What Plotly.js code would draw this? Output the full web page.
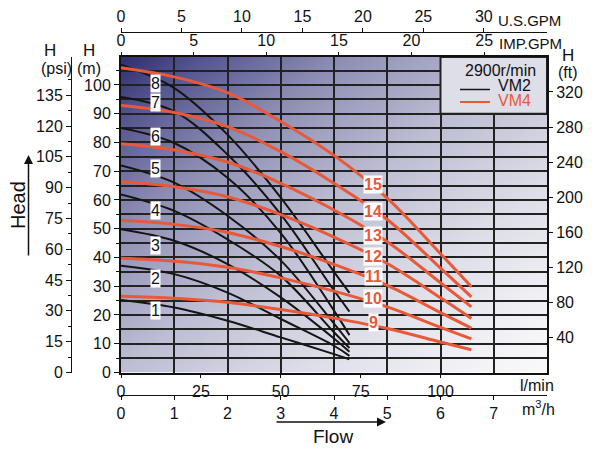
<!DOCTYPE html>
<html><head><meta charset="utf-8">
<script src="https://cdn.plot.ly/plotly-3.0.1.min.js"></script>
<style>body{margin:0;background:#fff}#chart{width:600px;height:451px}</style>
</head><body><div id="chart"></div>
<script>
// ---------- DATA (flow in m3/h, head in m) ----------
const vm2Flow = [0, 1, 2, 3, 4, 4.29];
const vm2_1 = [25.2, 22.6, 18.0, 12.2, 6.4, 4.6];
const vm2_2 = [37.1, 34.2, 27.8, 18.6, 9.3, 5.8];
const vm2_3 = [49.8, 45.8, 37.7, 26.1, 11.8, 7.2];
const vm2_4 = [61.9, 56.2, 46.3, 33.6, 14.0, 8.5];
const vm2_5 = [72.0, 66.0, 54.5, 39.0, 17.0, 10.3];
const vm2_6 = [85.0, 79.8, 67.7, 48.5, 21.5, 13.0];
const vm2_7 = [95.8, 90.8, 75.8, 55.0, 28.5, 21.2];
const vm2_8 = [107.0, 98.9, 82.7, 60.8, 35.0, 27.7];
const vm2Names = ['1','2','3','4','5','6','7','8'];
const vm2LabelFlow = 0.64;
const vm2LabelHead = [21.4, 32.7, 44.3, 56.5, 71.0, 82.2, 94.0, 100.6];

const vm4Flow = [0, 1, 2, 3, 4, 5, 6, 6.58];
const vm4_9  = [26.5, 25.8, 24.4, 21.9, 18.9, 15.3, 10.6, 7.9];
const vm4_10 = [39.7, 38.7, 36.6, 32.9, 28.3, 22.8, 15.7, 11.7];
const vm4_11 = [52.9, 51.5, 48.7, 43.8, 37.6, 30.3, 20.8, 15.4];
const vm4_12 = [66.3, 64.6, 61.1, 54.9, 47.1, 37.9, 26.0, 18.8];
const vm4_13 = [79.5, 77.4, 73.2, 65.8, 56.5, 45.5, 31.2, 22.8];
const vm4_14 = [92.8, 90.4, 85.5, 76.8, 65.8, 53.2, 36.3, 26.3];
const vm4_15 = [106.0, 102.8, 97.3, 87.3, 75.5, 60.6, 41.3, 29.8];
const vm4Names = ['9','10','11','12','13','14','15'];
const vm4LabelFlow = 4.74;
const vm4LabelHead = [17.5, 25.6, 33.3, 40.3, 47.8, 55.9, 65.4];

const lminTicks = [0, 25, 50, 75, 100];
const m3hTicks = [0, 1, 2, 3, 4, 5, 6, 7];
const impTicks = [0, 5, 10, 15, 20, 25];
const usTicks = [0, 5, 10, 15, 20, 25, 30];
const psiTicks = [0, 15, 30, 45, 60, 75, 90, 105, 120, 135];
const ftTicks = [40, 80, 120, 160, 200, 240, 280, 320];

// ---------- LAYOUT HELPERS ----------
const W = 600, H = 451;
const px = x => x / W, py = y => 1 - y / H;
const FLOW_MAX = 8;        // m3/h
const HEAD_MAX = 109.7;    // m
const LMIN = 1000 / 60;    // l/min per m3/h
const BLACK = '#151515', RED = '#e8593a', GRID = '#222';
const FONT = 'Liberation Sans, Arial, sans-serif';

function makeBg() {
  const c = document.createElement('canvas');
  c.width = 426; c.height = 316;
  const g = c.getContext('2d');
  const gr = g.createLinearGradient(0, 0, 340, 440);
  gr.addColorStop(0, 'rgb(46,46,112)');
  gr.addColorStop(0.1, 'rgb(88,88,146)');
  gr.addColorStop(0.25, 'rgb(143,143,181)');
  gr.addColorStop(0.45, 'rgb(190,190,212)');
  gr.addColorStop(0.65, 'rgb(222,222,232)');
  gr.addColorStop(0.85, 'rgb(245,245,248)');
  gr.addColorStop(1, 'rgb(255,255,255)');
  g.fillStyle = gr; g.fillRect(0, 0, 426, 316);
  return c.toDataURL('image/png');
}

const traces = [];
[vm2_1, vm2_2, vm2_3, vm2_4, vm2_5, vm2_6, vm2_7, vm2_8].forEach((h, i) => {
  traces.push({x: vm2Flow, y: h, xaxis: 'x', yaxis: 'y', mode: 'lines', name: 'VM2-' + vm2Names[i],
    line: {color: BLACK, width: 2, shape: 'spline', smoothing: 1}, hoverinfo: 'skip', showlegend: false});
});
[vm4_9, vm4_10, vm4_11, vm4_12, vm4_13, vm4_14, vm4_15].forEach((h, i) => {
  traces.push({x: vm4Flow, y: h, xaxis: 'x', yaxis: 'y', mode: 'lines', name: 'VM4-' + vm4Names[i],
    line: {color: RED, width: 3, shape: 'spline', smoothing: 1}, hoverinfo: 'skip', showlegend: false});
});
// empty helper traces so every secondary axis belongs to a subplot
[['x2','y'],['x3','y'],['x4','y'],['x5','y'],['x','y2'],['x','y3']].forEach(a => {
  traces.push({x: [], y: [], xaxis: a[0], yaxis: a[1], mode: 'lines', hoverinfo: 'skip', showlegend: false});
});

const tf = {family: FONT, size: 16, color: '#111'};
const common = {showgrid: false, zeroline: false, tickcolor: '#111', tickwidth: 1, linecolor: '#111', fixedrange: true};

const ann = [];
vm2Names.forEach((t, i) => ann.push({xref: 'x', yref: 'y', x: vm2LabelFlow, y: vm2LabelHead[i], text: t,
  showarrow: false, bgcolor: '#fff', borderpad: 0, font: {family: FONT, size: 16, color: '#111'}}));
vm4Names.forEach((t, i) => ann.push({xref: 'x', yref: 'y', x: vm4LabelFlow, y: vm4LabelHead[i], text: '<b>' + t + '</b>',
  showarrow: false, bgcolor: '#fff', borderpad: 0, font: {family: FONT, size: 16, color: RED}}));

function txt(t, x, y, size, opt) {
  ann.push(Object.assign({xref: 'paper', yref: 'paper', x: px(x), y: py(y), text: t, showarrow: false,
    font: {family: FONT, size: size, color: '#111'}, xanchor: 'center', yanchor: 'middle'}, opt || {}));
}
txt('U.S.GPM', 529, 21, 15);
txt('IMP.GPM', 530, 44, 15);
txt('H', 50, 51, 17); txt('(psi)', 56, 69, 16);
txt('H', 89, 51, 17); txt('(m)', 89, 69, 16);
txt('H', 568, 55, 17); txt('(ft)', 568, 72, 16);
txt('l/min', 537, 385, 16);
txt('m<sup>3</sup>/h', 538, 408, 16);
txt('Flow', 333, 436, 19);
txt('Head', 18, 205, 20, {textangle: -90});
txt('2900r/min', 500, 70, 16);
txt('VM2', 496, 85, 16, {xanchor: 'left'});
txt('VM4', 496, 101, 16, {xanchor: 'left', font: {family: FONT, size: 16, color: RED}});
ann.push({xref: 'paper', yref: 'paper', x: px(386), y: py(422), ax: -111, ay: 0, text: '', showarrow: true,
  arrowhead: 2, arrowsize: 1.2, arrowwidth: 1.5, arrowcolor: '#111'});
ann.push({xref: 'paper', yref: 'paper', x: px(28.5), y: py(155), ax: 0, ay: 102, text: '', showarrow: true,
  arrowhead: 2, arrowsize: 1.2, arrowwidth: 1.5, arrowcolor: '#111'});

const layout = {
  width: W, height: H, margin: {l: 0, r: 0, t: 0, b: 0},
  paper_bgcolor: '#fff', plot_bgcolor: 'rgba(0,0,0,0)', showlegend: false,
  font: {family: FONT, color: '#111'},
  xaxis: Object.assign({}, common, {domain: [px(121), px(547)], range: [0, FLOW_MAX], anchor: 'y',
    tickmode: 'linear', tick0: 0, dtick: 1, showgrid: true, gridcolor: GRID, gridwidth: 2,
    showticklabels: false, ticks: '', showline: true, linewidth: 2, mirror: true}),
  xaxis2: Object.assign({}, common, {overlaying: 'x', anchor: 'y', side: 'bottom', range: [0, FLOW_MAX * LMIN],
    tickmode: 'array', tickvals: lminTicks, ticks: 'outside', ticklen: 4, showline: false, tickfont: tf}),
  xaxis3: Object.assign({}, common, {overlaying: 'x', anchor: 'y', side: 'top', range: [0, FLOW_MAX * LMIN / 4.54609],
    tickmode: 'array', tickvals: impTicks, ticks: 'outside', ticklen: 4, showline: false, tickfont: tf}),
  xaxis4: Object.assign({}, common, {overlaying: 'x', anchor: 'free', position: py(394.5), side: 'bottom', range: [0, FLOW_MAX],
    tickmode: 'array', tickvals: m3hTicks, ticks: 'outside', ticklen: 4, showline: true, linewidth: 1, tickfont: tf}),
  xaxis5: Object.assign({}, common, {overlaying: 'x', anchor: 'free', position: py(32), side: 'top', range: [0, FLOW_MAX * LMIN / 3.78541],
    tickmode: 'array', tickvals: usTicks, ticks: 'outside', ticklen: 4, showline: true, linewidth: 1, tickfont: tf}),
  yaxis: Object.assign({}, common, {domain: [py(372.5), py(57)], range: [0, HEAD_MAX], anchor: 'x',
    tickmode: 'linear', tick0: 0, dtick: 10, ticks: 'outside', ticklen: 5, showline: true, linewidth: 2, mirror: true,
    showgrid: true, gridcolor: GRID, gridwidth: 2,
    minor: {dtick: 5, tick0: 0, showgrid: true, gridcolor: GRID, gridwidth: 2, ticks: 'outside', ticklen: 3, tickcolor: '#111'},
    tickfont: tf}),
  yaxis2: Object.assign({}, common, {overlaying: 'y', anchor: 'free', position: px(71), side: 'left', range: [0, 153.6],
    tickmode: 'array', tickvals: psiTicks, ticks: 'outside', ticklen: 5, showline: true, linewidth: 1,
    minor: {tickmode: 'array', tickvals: psiTicks.map(v => v + 7.5), ticks: 'outside', ticklen: 3, tickcolor: '#111'},
    tickfont: tf}),
  yaxis3: Object.assign({}, common, {overlaying: 'y', anchor: 'x', side: 'right', range: [0, HEAD_MAX / 0.3048],
    tickmode: 'array', tickvals: ftTicks, ticks: 'outside', ticklen: 5, showline: false, tickfont: tf}),
  images: [{source: makeBg(), xref: 'x', yref: 'y', x: 0, y: HEAD_MAX, sizex: FLOW_MAX, sizey: HEAD_MAX,
    sizing: 'stretch', xanchor: 'left', yanchor: 'top', layer: 'below'}],
  shapes: [
    {type: 'rect', xref: 'x', yref: 'y', x0: 6, x1: FLOW_MAX, y0: 90, y1: HEAD_MAX, fillcolor: '#dedee8',
      line: {color: GRID, width: 2}, layer: 'above'},
    {type: 'line', xref: 'paper', yref: 'paper', x0: px(460), x1: px(490), y0: py(89.5), y1: py(89.5), line: {color: BLACK, width: 1.5}},
    {type: 'line', xref: 'paper', yref: 'paper', x0: px(460), x1: px(490), y0: py(102), y1: py(102), line: {color: RED, width: 2}}
  ],
  annotations: ann
};

Plotly.newPlot('chart', traces, layout, {displayModeBar: false});
</script></body></html>
